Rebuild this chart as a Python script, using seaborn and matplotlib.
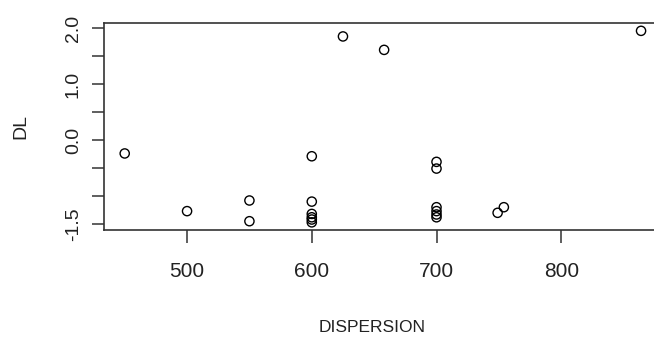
import pandas as pd
import matplotlib
matplotlib.use('Agg')
import matplotlib.pyplot as plt
import seaborn as sns

# data
dispersion = [450, 500, 550, 550, 600, 600, 600, 600, 600, 600, 625, 658,
              700, 700, 700, 700, 700, 700, 749, 754, 864]
dl = [-0.24, -1.27, -1.08, -1.45, -0.29, -1.10, -1.32, -1.38, -1.42, -1.47,
      1.85, 1.61, -0.39, -0.51, -1.20, -1.27, -1.33, -1.38, -1.30, -1.20, 1.95]

x_ticks = [500, 600, 700, 800]
y_ticks = [-1.5, -1.0, -0.5, 0.0, 0.5, 1.0, 1.5, 2.0]
y_labels = ['-1.5', '', '', '0.0', '', '1.0', '', '2.0']

data = pd.DataFrame({'DISPERSION': dispersion, 'DL': dl})

sns.set_style('ticks')
plt.rcParams['font.family'] = ['Liberation Sans Narrow', 'Liberation Sans', 'DejaVu Sans']

fig = plt.figure(figsize=(6.54, 3.41), dpi=100)
ax = fig.add_axes([104 / 654, 1 - 230 / 341, 559 / 654, 207 / 341])

sns.scatterplot(x='DISPERSION', y='DL', data=data, ax=ax, marker='o', s=44,
                facecolor='none', edgecolor='black', linewidth=1.0)

ax.set_xlim(433.4, 881.6)
ax.set_ylim(-1.607, 2.09)
ax.set_xticks(x_ticks)
ax.set_xticklabels([str(t) for t in x_ticks])
ax.set_yticks(y_ticks)
ax.set_yticklabels(y_labels, rotation=90, va='center')

for s in ax.spines.values():
    s.set_visible(True)
    s.set_linewidth(1.2)
    s.set_color('#333333')

ax.tick_params(axis='both', length=9, width=1.1, color='#333333',
               labelsize=14, labelcolor='#222222')
ax.tick_params(axis='x', pad=14, labelsize=15)
ax.tick_params(axis='y', pad=7)
ax.set_xlabel('DISPERSION', fontsize=12.5, color='#222222')
ax.set_ylabel('DL', fontsize=14, color='#222222')
ax.xaxis.set_label_coords((372 - 104) / 559, -(320 - 230) / 207)
ax.yaxis.set_label_coords(-(104 - 29) / 559, 0.5)

fig.savefig('out.png', dpi=100)
